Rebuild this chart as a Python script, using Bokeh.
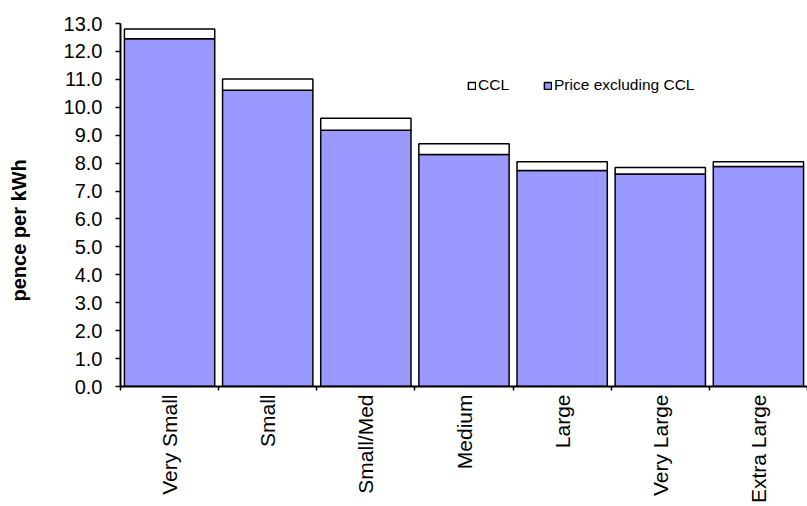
import math
from bokeh.plotting import figure
from bokeh.models import (FixedTicker, NumeralTickFormatter, Legend, LegendItem,
                          Title, ColumnDataSource, Range1d)
from bokeh.embed import file_html
from bokeh.resources import INLINE

categories = ["Very Small", "Small", "Small/Med", "Medium", "Large", "Very Large", "Extra Large"]
price_excl_ccl = [12.45, 10.61, 9.18, 8.31, 7.74, 7.61, 7.88]
ccl = [0.35, 0.40, 0.43, 0.38, 0.31, 0.23, 0.17]
y_ticks = list(range(0, 14))

xpos = list(range(len(categories)))
src = ColumnDataSource(dict(x=xpos, price=price_excl_ccl, ccl=ccl))

FONT = "Liberation Sans"

p = figure(width=807, height=506, output_backend="svg", toolbar_location=None,
           x_range=Range1d(-0.5, len(categories) - 0.5), y_range=Range1d(0, 13),
           min_border_left=120, min_border_right=0, min_border_top=23, min_border_bottom=119)
p.outline_line_color = None
p.grid.grid_line_color = None
p.background_fill_color = "white"

rs = p.vbar_stack(["price", "ccl"], x="x", width=0.92, source=src,
                  fill_color=["#9999FF", "#FFFFFF"], line_color="black", line_width=1.5)

# y axis
p.yaxis.ticker = FixedTicker(ticks=y_ticks)
p.yaxis.formatter = NumeralTickFormatter(format="0.0")
p.yaxis.major_tick_out = 5
p.yaxis.major_tick_in = 0
p.yaxis.minor_tick_out = 0
p.yaxis.minor_tick_in = 0
p.yaxis.axis_line_width = 2
p.yaxis.axis_line_color = "black"
p.yaxis.major_tick_line_color = "black"
p.yaxis.major_tick_line_width = 1.5
p.yaxis.major_label_text_font = FONT
p.yaxis.major_label_text_font_size = "20px"
p.yaxis.major_label_text_color = "black"
p.yaxis.major_label_standoff = 13
# invisible spacer label to push the title outwards
p.yaxis.axis_label = " "
p.yaxis.axis_label_text_font_size = "1px"
p.yaxis.axis_label_standoff = 20

# x axis: labels at centres, ticks at boundaries
p.xaxis.ticker = FixedTicker(ticks=xpos, minor_ticks=[i - 0.5 for i in range(len(categories) + 1)])
p.xaxis.major_label_overrides = {i: c for i, c in zip(xpos, categories)}
p.xaxis.major_tick_out = 0
p.xaxis.major_tick_in = 0
p.xaxis.minor_tick_out = 4
p.xaxis.minor_tick_in = 0
p.xaxis.minor_tick_line_color = "black"
p.xaxis.minor_tick_line_width = 1.5
p.xaxis.axis_line_width = 2
p.xaxis.axis_line_color = "black"
p.xaxis.major_label_orientation = math.pi / 2
p.xaxis.major_label_text_font = FONT
p.xaxis.major_label_text_font_size = "21px"
p.xaxis.major_label_text_color = "black"
p.xaxis.major_label_standoff = 4

# y axis title
ytitle = Title(text="pence per kWh", align="left", vertical_align="top", offset=85,
               text_font=FONT, text_font_size="20px", text_font_style="bold", text_color="black")
p.add_layout(ytitle, "left")

legend = Legend(items=[LegendItem(label="CCL", renderers=[rs[1]]),
                       LegendItem(label="Price excluding CCL", renderers=[rs[0]])],
                orientation="horizontal", location=(347, 292),
                glyph_width=9, glyph_height=9, label_standoff=2, spacing=34,
                padding=0, margin=0, border_line_color=None, background_fill_alpha=0,
                label_text_font=FONT, label_text_font_size="15.5px", label_text_color="black")
p.add_layout(legend)

open("out.html", "w").write(file_html(p, INLINE))
